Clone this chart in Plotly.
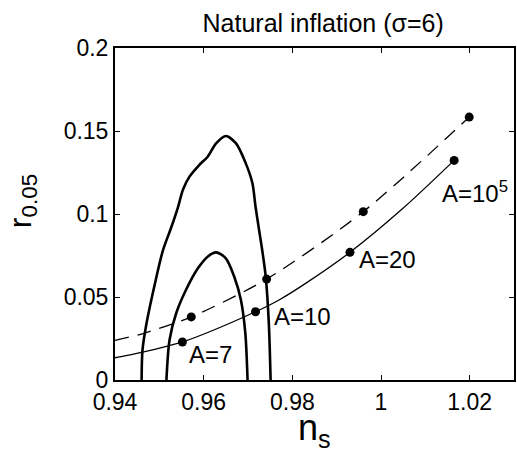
import plotly.graph_objects as go

# ---- data ----
# thick contours (outer and inner confidence regions)
outer_ns = [0.9460, 0.9462, 0.9471, 0.9490, 0.9508, 0.9527, 0.9542, 0.9553, 0.9568, 0.9590,
            0.9609, 0.9628, 0.9650, 0.9673, 0.9695, 0.9710, 0.9717, 0.9725, 0.9732, 0.9740,
            0.9747, 0.9751]
outer_r = [0.000, 0.018, 0.034, 0.058, 0.078, 0.092, 0.104, 0.1145, 0.1225, 0.1295,
           0.1345, 0.1425, 0.1470, 0.1425, 0.1305, 0.1185, 0.1044, 0.0904, 0.0783, 0.0622,
           0.0341, 0.000]
inner_ns = [0.9516, 0.9523, 0.9538, 0.9560, 0.9587, 0.9609, 0.9628, 0.9650, 0.9669, 0.9684,
            0.9694, 0.9699]
inner_r = [0.000, 0.0241, 0.0402, 0.0542, 0.0673, 0.0743, 0.0769, 0.0733, 0.0622, 0.0482,
           0.0281, 0.000]

# solid model curve and its marked points
solid_ns = [0.9400, 0.9434, 0.9552, 0.9717, 0.9770, 0.9830, 0.9930, 1.0047, 1.0165]
solid_r = [0.0134, 0.0151, 0.0229, 0.0411, 0.0482, 0.0582, 0.0769, 0.1028, 0.1323]
solid_dot_ns = [0.9552, 0.9717, 0.9930, 1.0165]
solid_dot_r = [0.0229, 0.0411, 0.0769, 0.1323]

# dashed model curve and its marked points
dashed_ns = [0.9400, 0.9467, 0.9572, 0.9742, 0.9960, 1.0199]
dashed_r = [0.0238, 0.0283, 0.0380, 0.0608, 0.1014, 0.1584]
dashed_dot_ns = [0.9572, 0.9742, 0.9960, 1.0199]
dashed_dot_r = [0.0380, 0.0608, 0.1014, 0.1584]

# labels
label_text = ["A=7", "A=10", "A=20", "A=10<sup>5</sup>"]
label_ns = [0.9615, 0.9823, 1.0014, 1.0132]
label_r = [0.0151, 0.0380, 0.0723, 0.1130]

x_ticks = [0.94, 0.96, 0.98, 1.00, 1.02]
x_ticktext = ["0.94", "0.96", "0.98", "1", "1.02"]
y_ticks = [0, 0.05, 0.1, 0.15, 0.2]
y_ticktext = ["0", "0.05", "0.1", "0.15", "0.2"]

FONT = "Liberation Sans, Arial, sans-serif"

fig = go.Figure()
fig.add_trace(go.Scatter(x=outer_ns, y=outer_r, mode="lines",
                         line=dict(color="black", width=2.6, shape="spline", smoothing=0.8)))
fig.add_trace(go.Scatter(x=inner_ns, y=inner_r, mode="lines",
                         line=dict(color="black", width=2.6, shape="spline", smoothing=0.8)))
fig.add_trace(go.Scatter(x=solid_ns, y=solid_r, mode="lines",
                         line=dict(color="black", width=1.3, shape="spline", smoothing=0.8)))
fig.add_trace(go.Scatter(x=dashed_ns, y=dashed_r, mode="lines",
                         line=dict(color="black", width=1.3, dash="14px,9px", shape="spline", smoothing=0.8)))
fig.add_trace(go.Scatter(x=solid_dot_ns, y=solid_dot_r, mode="markers",
                         marker=dict(color="black", size=9)))
fig.add_trace(go.Scatter(x=dashed_dot_ns, y=dashed_dot_r, mode="markers",
                         marker=dict(color="black", size=9)))

for t, xv, yv in zip(label_text, label_ns, label_r):
    fig.add_annotation(x=xv, y=yv, text=t, showarrow=False, xanchor="left" if "sup" in t else "center",
                       yanchor="middle", font=dict(size=24, color="black", family=FONT))

# axis titles
fig.add_annotation(x=0.5, y=-0.075, xref="paper", yref="paper", text="n<sub>s</sub>", showarrow=False,
                   xanchor="center", yanchor="top", font=dict(size=36, color="black", family=FONT))
fig.add_annotation(x=-0.232, y=0.54, xref="paper", yref="paper", text="r<sub>0.05</sub>", showarrow=False,
                   textangle=-90, xanchor="center", yanchor="middle",
                   font=dict(size=32, color="black", family=FONT))

axis_common = dict(showgrid=False, zeroline=False, showline=True, linecolor="black", linewidth=2,
                   mirror="allticks", ticks="inside", ticklen=5, tickwidth=1, tickcolor="black",
                   tickfont=dict(size=23, color="black", family=FONT))

fig.update_layout(
    width=517, height=457,
    margin=dict(l=115, r=1, t=48, b=77),
    paper_bgcolor="white", plot_bgcolor="white",
    showlegend=False,
    title=dict(text="Natural inflation (σ=6)", x=0.625, xanchor="center", y=0.95, yanchor="middle",
               font=dict(size=25, color="black", family=FONT)),
    xaxis=dict(range=[0.94, 1.03], tickvals=x_ticks, ticktext=x_ticktext, ticklabelstandoff=0,
               **axis_common),
    yaxis=dict(range=[0, 0.2], tickvals=y_ticks, ticktext=y_ticktext, **axis_common),
)

fig.write_html("out.html", config={"displayModeBar": False},
               post_script="document.body.style.margin='0';")
